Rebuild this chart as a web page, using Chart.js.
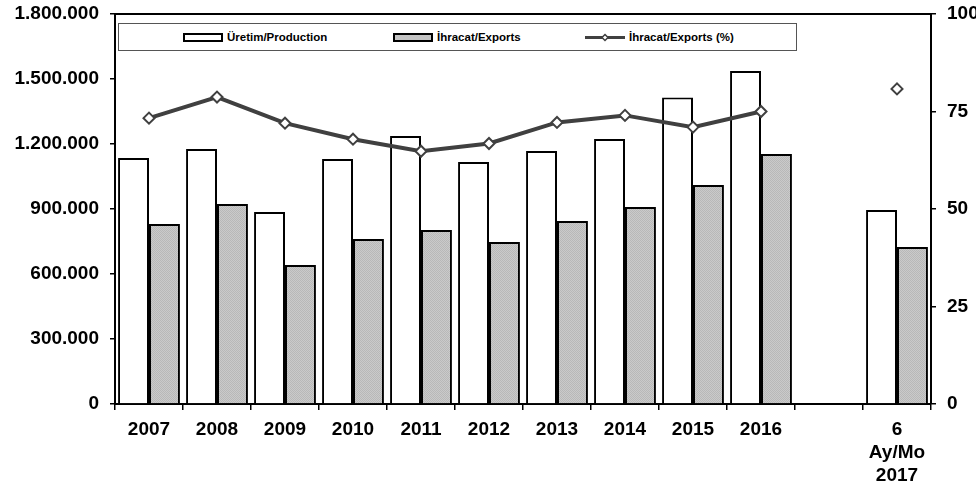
<!DOCTYPE html>
<html>
<head>
<meta charset="utf-8">
<script src="https://cdn.jsdelivr.net/npm/chart.js@4.4.0/dist/chart.umd.min.js"></script>
<style>
html,body{margin:0;padding:0;background:#fff}
#wrap{position:relative;width:976px;height:486px}
#legend{position:absolute;left:118px;top:23px;width:679px;height:28px;border:1px solid #555;background:#fff;box-sizing:border-box;
 font:bold 11.5px "Liberation Sans",Arial,sans-serif;color:#000}
#legend .item{position:absolute;top:0;height:100%;display:flex;align-items:center;white-space:nowrap}
#legend .icon{width:40px;height:13px;margin-right:4px;display:block}
</style>
</head>
<body>
<div id="wrap">
 <canvas id="c" width="976" height="486"></canvas>
 <div id="legend"></div>
</div>
<script>
// values (tonnes / %)
const years=['2007','2008','2009','2010','2011','2012','2013','2014','2015','2016','',['6','Ay/Mo','2017']];
const production=[1135000,1177000,886000,1131000,1237000,1117000,1168000,1223000,1415000,1537000,null,895000];
const exportsT=[831000,923000,641000,762000,803000,748000,845000,909000,1011000,1154000,null,725000];
const exportShare=[73.3,78.7,72.0,67.9,64.8,66.8,72.2,74.0,71.0,75.0,null,80.8];
const seriesNames=['Üretim/Production','İhracat/Exports','İhracat/Exports (%)'];
const leftTicks=[0,300000,600000,900000,1200000,1500000,1800000];
const rightTicks=[0,25,50,75,100];

function dots(n){ return String(n).replace(/\B(?=(\d{3})+(?!\d))/g,'.'); }

// light dotted grey like the original fill
function greyPattern(){
 const p=document.createElement('canvas'); p.width=2; p.height=2;
 const g=p.getContext('2d');
 g.fillStyle='#cacaca'; g.fillRect(0,0,2,2);
 g.fillStyle='#b8b8b8'; g.fillRect(0,0,1,1); g.fillRect(1,1,1,1);
 return g.createPattern(p,'repeat');
}

const font={family:'"Liberation Sans", Arial, sans-serif',size:19,weight:'bold',lineHeight:1.22};

const topLine={id:'topLine',afterDraw(ch){
 const a=ch.chartArea, ctx=ch.ctx;
 ctx.save(); ctx.strokeStyle='#000'; ctx.lineWidth=2;
 ctx.beginPath(); ctx.moveTo(a.left,a.top); ctx.lineTo(a.right,a.top); ctx.stroke();
 ctx.restore();
}};

function noPad(s){ s.paddingTop=0; s.paddingBottom=0; }

new Chart(document.getElementById('c'),{
 type:'bar',
 data:{labels:years,datasets:[
  {type:'line',label:seriesNames[2],data:exportShare,yAxisID:'y1',order:0,
   borderColor:'#404040',borderWidth:4,tension:0,spanGaps:false,
   pointStyle:'rectRot',pointRadius:5.5,pointBackgroundColor:'#fff',pointBorderColor:'#404040',pointBorderWidth:2},
  {label:seriesNames[0],data:production,yAxisID:'y',order:1,backgroundColor:'#fff',borderColor:'#000',borderWidth:2,
   categoryPercentage:0.91,barPercentage:1},
  {label:seriesNames[1],data:exportsT,yAxisID:'y',order:1,backgroundColor:greyPattern(),borderColor:'#000',borderWidth:2,
   categoryPercentage:0.91,barPercentage:1}
 ]},
 options:{
  responsive:false,animation:false,
  layout:{padding:{top:14,left:0,right:0,bottom:0}},
  plugins:{legend:{display:false},tooltip:{enabled:false}},
  scales:{
   x:{grid:{display:true,drawOnChartArea:false,drawTicks:true,tickLength:6,color:'#000',lineWidth:1.5,offset:true},
      border:{display:true,color:'#000',width:2},
      ticks:{color:'#000',font,padding:8,maxRotation:0,autoSkip:false},
      afterFit(s){s.height=82;}},
   y:{position:'left',min:0,max:1800000,
      afterBuildTicks(s){s.ticks=leftTicks.map(v=>({value:v}));},
      grid:{display:true,drawOnChartArea:false,drawTicks:true,tickLength:5,color:'#000',lineWidth:1.5},
      border:{display:true,color:'#000',width:2},
      ticks:{color:'#000',font,padding:11,callback:v=>dots(v)},
      afterFit(s){s.width=115; noPad(s);}},
   y1:{position:'right',min:0,max:100,
      afterBuildTicks(s){s.ticks=rightTicks.map(v=>({value:v}));},
      grid:{display:true,drawOnChartArea:false,drawTicks:true,tickLength:5,color:'#000',lineWidth:1.5},
      border:{display:true,color:'#000',width:2},
      ticks:{color:'#000',font,padding:11},
      afterFit(s){s.width=45; noPad(s);}}
  }
 },
 plugins:[topLine]
});

// legend box drawn over the plot, as in the original
const lg=document.getElementById('legend');
const icons=[
 '<svg class="icon" viewBox="0 0 40 13"><rect x="1" y="3" width="38" height="7" fill="#fff" stroke="#000" stroke-width="2"/></svg>',
 '<svg class="icon" viewBox="0 0 40 13"><rect x="1" y="3" width="38" height="7" fill="#c4c4c4" stroke="#000" stroke-width="2"/></svg>',
 '<svg class="icon" viewBox="0 0 40 13"><line x1="0" y1="6.5" x2="40" y2="6.5" stroke="#404040" stroke-width="3"/><path d="M20 3.5 L23 6.5 L20 9.5 L17 6.5 Z" fill="#fff" stroke="#404040" stroke-width="1.5"/></svg>'
];
const lgX=[64,274,466];
seriesNames.forEach((n,i)=>{
 const d=document.createElement('div'); d.className='item'; d.style.left=lgX[i]+'px';
 d.innerHTML=icons[i]+'<span>'+n+'</span>';
 lg.appendChild(d);
});
</script>
</body>
</html>
